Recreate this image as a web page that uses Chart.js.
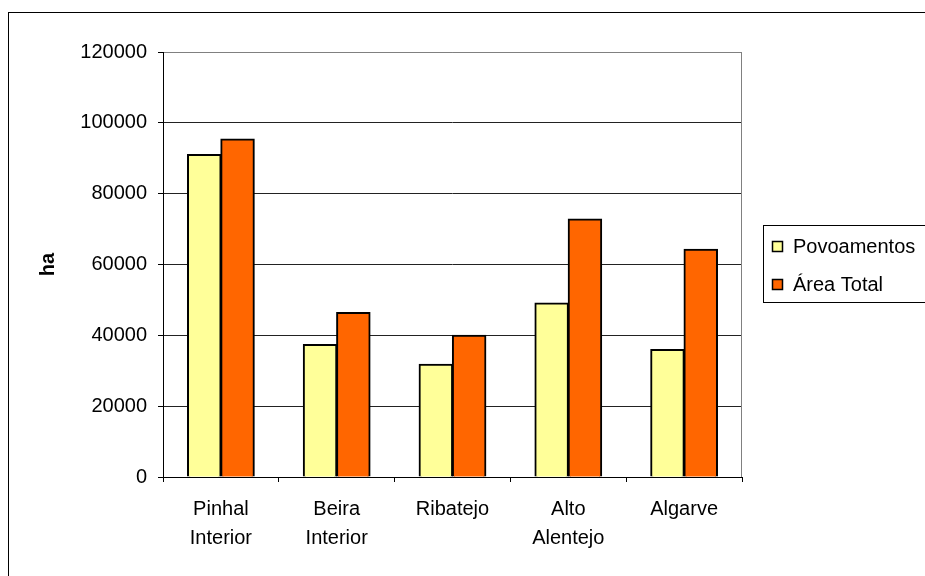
<!DOCTYPE html>
<html>
<head>
<meta charset="utf-8">
<script src="https://cdn.jsdelivr.net/npm/chart.js@4/dist/chart.umd.min.js"></script>
<style>
  html, body { margin: 0; padding: 0; background: #fff; }
  #wrap { width: 925px; height: 576px; position: relative; }
</style>
</head>
<body>
<div id="wrap"><canvas id="c" width="925" height="576"></canvas></div>
<script>
// Regiões e áreas (ha)
const regioes = [['Pinhal', 'Interior'], ['Beira', 'Interior'], 'Ribatejo', ['Alto', 'Alentejo'], 'Algarve'];
const povoamentos = [91000, 37400, 31800, 49100, 36000];
const areaTotal = [95400, 46400, 40000, 72800, 64300];
const yTicks = [0, 20000, 40000, 60000, 80000, 100000, 120000];

const FONT = 'Liberation Sans, Arial, sans-serif';

// Moldura exterior, contorno da área de desenho e legenda em caixa
const decor = {
  id: 'decor',
  beforeDraw(chart) {
    const ctx = chart.ctx;
    ctx.save();
    ctx.fillStyle = '#fff';
    ctx.fillRect(0, 0, chart.width, chart.height);
    ctx.strokeStyle = '#000';
    ctx.lineWidth = 1;
    ctx.strokeRect(8.5, 12.5, chart.width + 20, chart.height + 20);
    ctx.restore();
  },
  afterDatasetsDraw(chart) {
    const ctx = chart.ctx;
    const a = chart.chartArea;
    ctx.save();
    ctx.strokeStyle = '#808080';
    ctx.lineWidth = 1;
    ctx.beginPath();
    ctx.moveTo(a.left, a.top + 0.5);
    ctx.lineTo(a.right - 0.5, a.top + 0.5);
    ctx.lineTo(a.right - 0.5, a.bottom);
    ctx.stroke();
    ctx.strokeStyle = '#000';
    ctx.beginPath();
    ctx.moveTo(a.left + 0.5, a.top);
    ctx.lineTo(a.left + 0.5, a.bottom + 0.5);
    ctx.lineTo(a.right, a.bottom + 0.5);
    ctx.stroke();

    // legenda
    const lx = 763.5, ly = 225.5;
    ctx.strokeStyle = '#000';
    ctx.strokeRect(lx, ly, 200, 77);
    ctx.font = '20px ' + FONT;
    ctx.textBaseline = 'middle';
    ctx.textAlign = 'left';
    chart.data.datasets.forEach((ds, i) => {
      const cy = 246 + i * 38;
      ctx.fillStyle = ds.backgroundColor;
      ctx.fillRect(772, cy - 5, 11, 11);
      ctx.strokeStyle = '#000';
      ctx.lineWidth = 1.5;
      ctx.strokeRect(772.5, cy - 4.5, 10, 10);
      ctx.fillStyle = '#000';
      ctx.fillText(ds.label, 793, cy + 1);
    });
    ctx.restore();
  }
};

new Chart(document.getElementById('c'), {
  type: 'bar',
  data: {
    labels: regioes,
    datasets: [
      { label: 'Povoamentos', data: povoamentos, backgroundColor: '#FFFF99', borderColor: '#000', borderWidth: 2, inflateAmount: 0.6 },
      { label: 'Área Total', data: areaTotal, backgroundColor: '#FF6600', borderColor: '#000', borderWidth: 2, inflateAmount: 0.6 }
    ]
  },
  options: {
    responsive: false,
    animation: false,
    devicePixelRatio: 1,
    layout: { padding: { left: 0, top: 52, right: 183, bottom: 0 } },
    datasets: { bar: { categoryPercentage: 0.575, barPercentage: 1.0 } },
    plugins: { legend: { display: false }, tooltip: { enabled: false } },
    scales: {
      x: {
        grid: { offset: true, drawOnChartArea: false, tickLength: 5, color: '#000', drawTicks: true },
        border: { display: false },
        ticks: { color: '#000', font: { family: FONT, size: 20, lineHeight: 1.45 }, padding: 13, maxRotation: 0, autoSkip: false },
        afterFit(s) { s.height = 99; }
      },
      y: {
        min: 0, max: 120000,
        afterBuildTicks(s) { s.ticks = yTicks.map(v => ({ value: v })); },
        grid: {
          color: (c) => (c.tick && c.tick.value === 120000) ? '#808080' : '#222',
          tickColor: '#000',
          tickLength: 5
        },
        border: { display: false },
        ticks: { color: '#000', font: { family: FONT, size: 20 }, padding: 11, callback: (v) => String(v) },
        title: { display: true, text: 'ha', color: '#000', font: { family: FONT, size: 20, weight: 'bold' }, padding: { top: 36, bottom: 0 } },
        afterFit(s) { s.width = 163; }
      }
    }
  },
  plugins: [decor]
});
</script>
</body>
</html>
